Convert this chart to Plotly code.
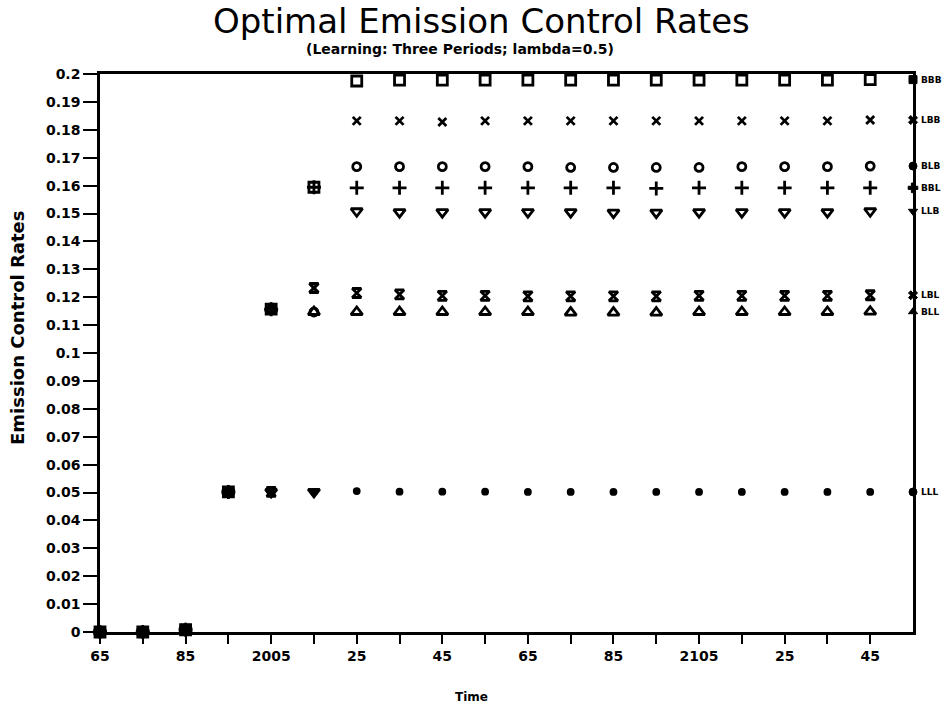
import plotly.graph_objects as go

years = [1965, 1975, 1985, 1995, 2005, 2015, 2025, 2035, 2045, 2055,
         2065, 2075, 2085, 2095, 2105, 2115, 2125, 2135, 2145]
end_year = 2155

series_names = ["BBB", "LBB", "BLB", "BBL", "LLB", "LBL", "BLL", "LLL"]

BBB = [0, 0, 0.0008, 0.0502, 0.1157, 0.1594, 0.1975, 0.1978, 0.1978, 0.1978, 0.1978, 0.1978,
       0.1978, 0.1978, 0.1978, 0.1978, 0.1978, 0.1978, 0.1980]
LBB = [0, 0, 0.0008, 0.0502, 0.0502, 0.1233, 0.1832, 0.1832, 0.1828, 0.1832, 0.1832, 0.1832,
       0.1832, 0.1832, 0.1832, 0.1832, 0.1832, 0.1832, 0.1835]
BLB = [0, 0, 0.0008, 0.0502, 0.1157, 0.1147, 0.1668, 0.1668, 0.1668, 0.1668, 0.1668, 0.1665,
       0.1665, 0.1665, 0.1665, 0.1668, 0.1668, 0.1668, 0.1670]
BBL = [0, 0, 0.0008, 0.0502, 0.1157, 0.1594, 0.1592, 0.1592, 0.1592, 0.1592, 0.1592, 0.1592,
       0.1592, 0.1590, 0.1592, 0.1592, 0.1592, 0.1592, 0.1592]
LLB = [0, 0, 0.0008, 0.0502, 0.0502, 0.0502, 0.1508, 0.1505, 0.1505, 0.1505, 0.1505, 0.1505,
       0.1503, 0.1503, 0.1505, 0.1505, 0.1505, 0.1505, 0.1508]
LBL = [0, 0, 0.0008, 0.0502, 0.0502, 0.1233, 0.1215, 0.1210, 0.1205, 0.1205, 0.1203, 0.1203,
       0.1203, 0.1203, 0.1205, 0.1205, 0.1205, 0.1205, 0.1207]
BLL = [0, 0, 0.0008, 0.0502, 0.1157, 0.1147, 0.1147, 0.1147, 0.1147, 0.1147, 0.1147, 0.1145,
       0.1145, 0.1145, 0.1147, 0.1147, 0.1147, 0.1147, 0.1148]
LLL = [0, 0, 0.0008, 0.0502, 0.0502, 0.0502, 0.0505, 0.0503, 0.0503, 0.0503, 0.0502, 0.0502,
       0.0502, 0.0502, 0.0502, 0.0502, 0.0502, 0.0502, 0.0502]

x_tick_vals = [1965, 1985, 2005, 2025, 2045, 2065, 2085, 2105, 2125, 2145]
x_tick_text = ["65", "85", "2005", "25", "45", "65", "85", "2105", "25", "45"]
x_minor_vals = [1975, 1995, 2015, 2035, 2055, 2075, 2095, 2115, 2135]
y_tick_vals = [i / 100 for i in range(21)]
y_tick_text = ["0"] + ["%g" % (i / 100) for i in range(1, 21)]

all_series = [BBB, LBB, BLB, BBL, LLB, LBL, BLL, LLL]
symbols = ["square-open", "x-thin-open", "circle-open", "cross-thin-open",
           "triangle-down-open", "hourglass-open", "triangle-up-open", "circle"]
sizes = [10, 8, 8, 10, 10, 9, 10, 5]
end_symbols = ["square", "x", "circle", "cross", "triangle-down", "x", "triangle-up", "circle"]

fig = go.Figure()
for name, vals, sym, sz in zip(series_names, all_series, symbols, sizes):
    fig.add_trace(go.Scatter(
        x=years, y=vals, mode="markers", name=name, cliponaxis=False,
        marker=dict(symbol=sym, size=sz, color="black",
                    line=dict(color="black", width=2.8)),
    ))

fig.add_trace(go.Scatter(
    x=[end_year] * len(series_names), y=[s[-1] for s in all_series],
    mode="markers", cliponaxis=False, showlegend=False,
    marker=dict(symbol=end_symbols, size=8, color="black",
                line=dict(color="black", width=1)),
))

label_font = dict(family="DejaVu Sans", size=14, color="black", weight="bold")

annotations = []
for name, vals in zip(series_names, all_series):
    annotations.append(dict(
        x=end_year, y=vals[-1], xref="x", yref="y", text=name, showarrow=False,
        xanchor="left", yanchor="middle", xshift=6,
        font=dict(family="DejaVu Sans", size=9, color="black", weight="bold"),
    ))

annotations += [
    dict(x=481, y=711 - 21, xref="paper", yref="paper", text="Optimal Emission Control Rates",
         showarrow=False, xanchor="center", yanchor="middle",
         font=dict(family="DejaVu Sans", size=34, color="black")),
    dict(x=460, y=711 - 49, xref="paper", yref="paper",
         text="(Learning: Three Periods; lambda=0.5)", showarrow=False,
         xanchor="center", yanchor="middle",
         font=dict(family="DejaVu Sans", size=14, color="black", weight="bold")),
    dict(x=17, y=711 - 328, xref="paper", yref="paper", text="Emission Control Rates",
         showarrow=False, textangle=-90, xanchor="center", yanchor="middle",
         font=dict(family="DejaVu Sans", size=18, color="black", weight="bold")),
    dict(x=471, y=711 - 697, xref="paper", yref="paper", text="Time",
         showarrow=False, xanchor="center", yanchor="middle",
         font=dict(family="DejaVu Sans", size=12, color="black", weight="bold")),
]

# convert pixel positions of layout annotations to paper coords
L, R, T, B = 100, 38, 74, 79
pw, ph = 951 - L - R, 711 - T - B
for a in annotations:
    if a["xref"] == "paper":
        a["x"] = (a["x"] - L) / pw
        a["y"] = (a["y"] - B) / ph

fig.update_layout(
    width=951, height=711,
    margin=dict(l=L, r=R, t=T, b=B, pad=0),
    paper_bgcolor="white", plot_bgcolor="white",
    showlegend=False,
    annotations=annotations,
    xaxis=dict(
        range=[1965, 2155], showgrid=False, zeroline=False,
        showline=True, linecolor="black", linewidth=2.5, mirror=True,
        tickmode="array", tickvals=x_tick_vals, ticktext=x_tick_text,
        ticks="outside", ticklen=9, tickwidth=2, tickcolor="black",
        minor=dict(tickmode="array", tickvals=x_minor_vals,
                   ticks="outside", ticklen=9, tickwidth=2, tickcolor="black", showgrid=False),
        tickfont=label_font,
    ),
    yaxis=dict(
        range=[0, 0.2], showgrid=False, zeroline=False,
        showline=True, linecolor="black", linewidth=2.5, mirror=True,
        tickmode="array", tickvals=y_tick_vals, ticktext=y_tick_text,
        ticks="outside", ticklen=14, tickwidth=2, tickcolor="black",
        tickfont=label_font,
    ),
)

fig.write_html("out.html")
